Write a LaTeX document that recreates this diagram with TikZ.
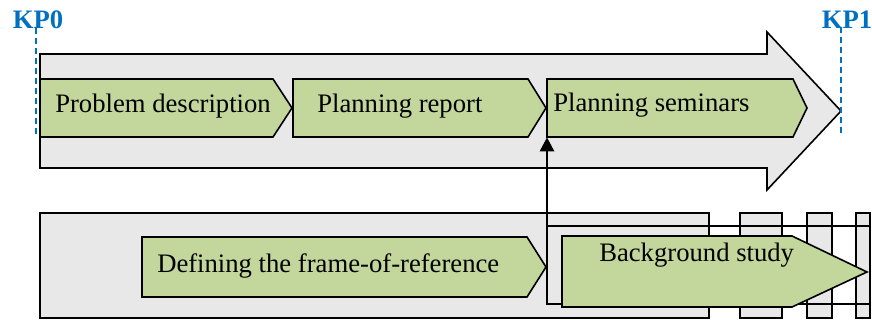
\documentclass[tikz,border=0pt]{standalone}
\usepackage{fontspec}
\setmainfont{Liberation Serif}
\usetikzlibrary{arrows.meta}
\definecolor{kpblue}{RGB}{0,112,192}
\definecolor{phgreen}{RGB}{195,214,155}
\definecolor{bggray}{RGB}{232,232,232}
\tikzset{
  shell/.style={fill=bggray, draw=black, line width=1.2pt, line join=miter},
  phase/.style={fill=phgreen, draw=black, line width=1.2pt, line join=miter},
  frame/.style={draw=black, line width=1.2pt},
  lbl/.style={anchor=base west, inner sep=0pt, font=\fontsize{20}{24}\selectfont},
  kp/.style={anchor=base west, inner sep=0pt, text=kpblue, font=\fontsize{20}{24}\selectfont\bfseries},
  kpline/.style={draw=kpblue, line width=1.5pt, dash pattern=on 4.5pt off 3pt},
  link/.style={draw=black, line width=1pt, -{Triangle[width=11pt,length=10.5pt]}}
}
\begin{document}
\begin{tikzpicture}[x=0.75pt,y=-0.75pt]
\useasboundingbox (0,0) rectangle (872,320);
% top big arrow
\path[shell] (40,54) -- (767,54) -- (767,32) -- (841,111) -- (767,190) -- (767,168) -- (40,168) -- cycle;
% chevrons
\path[phase] (40,79) -- (273,79) -- (292,108) -- (273,137) -- (40,137) -- cycle;
\path[phase] (293,79) -- (528,79) -- (546,108) -- (528,137) -- (293,137) -- cycle;
\path[phase] (547,79) -- (793,79) -- (807,108) -- (793,137) -- (547,137) -- cycle;
\node[lbl] (pd) at (55,113) {Problem description};
\node[lbl] (pr) at (317,113) {Planning report};
\node[lbl] (ps) at (553,112) {Planning seminars};
% key points
\node[kp] (kp0) at (12.5,29) {KP0};
\node[kp] (kp1) at (821.5,29) {KP1};
\coordinate (kp0b) at (36,137);
\coordinate (kp1b) at (841,136);
\draw[kpline] (kp0.south -| kp0b) ++(0,-2) -- (kp0b);
\draw[kpline] (kp1.south -| kp1b) ++(0,-2) -- (kp1b);
% lower part
\path[shell] (40,213) rectangle (709,318);
\path[shell] (740,213) rectangle (782,318);
\path[shell] (807,213) rectangle (832,318);
\path[shell] (856,213) rectangle (870,318);
\draw[frame] (547,226) rectangle (870,304);
\coordinate (bgnw) at (547,226);
\coordinate (pssw) at (547,137.5);
\path[phase] (142,237) -- (527,237) -- (546,267) -- (527,297) -- (142,297) -- cycle;
\path[phase] (562,236) -- (792,236) -- (867,272) -- (792,307) -- (562,307) -- cycle;
\node[lbl] (df) at (157,273) {Defining the frame-of-reference};
\node[lbl] (bs) at (599,262) {Background study};
% connector
\draw[link] (bgnw) -- (pssw);
\end{tikzpicture}
\end{document}
